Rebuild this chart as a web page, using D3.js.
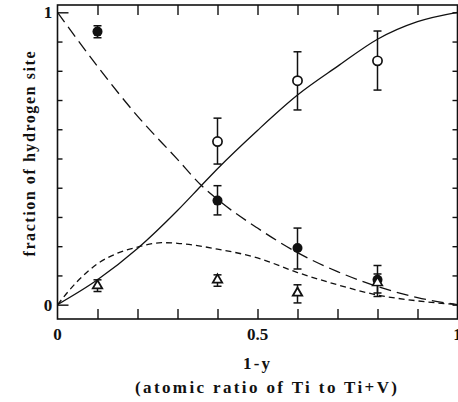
<!DOCTYPE html>
<html><head><meta charset="utf-8">
<script src="https://cdn.jsdelivr.net/npm/d3@7"></script>
<style>html,body{margin:0;padding:0;background:#fff;}svg{display:block;}</style>
</head><body>
<svg id="chart" width="458" height="402"></svg>
<script>
// ---- data ----
const xCats = [0.1, 0.4, 0.6, 0.8];
// filled circles
const filledY   = [0.934, 0.356, 0.194, 0.085];
const filledLo  = [0.913, 0.307, 0.122, 0.040];
const filledHi  = [0.954, 0.407, 0.262, 0.134];
// open circles
const openX     = [0.4, 0.6, 0.8];
const openY     = [0.558, 0.766, 0.834];
const openLo    = [0.481, 0.666, 0.734];
const openHi    = [0.638, 0.865, 0.936];
// open triangles
const triY      = [0.065, 0.085, 0.040, 0.075];
const triLo     = [0.045, 0.063, 0.006, 0.028];
const triHi     = [0.085, 0.102, 0.068, 0.105];
// curves
const solidX  = [0, 0.1, 0.2, 0.3, 0.358, 0.4, 0.5, 0.6, 0.7, 0.8, 0.9, 1];
const solidY  = [0, 0.085, 0.192, 0.322, 0.405, 0.465, 0.596, 0.717, 0.815, 0.908, 0.968, 1];
const longX   = [0, 0.1, 0.2, 0.3, 0.358, 0.4, 0.5, 0.6, 0.7, 0.8, 0.9, 1];
const longY   = [1, 0.815, 0.645, 0.497, 0.41, 0.36, 0.262, 0.178, 0.113, 0.062, 0.024, 0];
const shortX  = [0, 0.05, 0.1, 0.15, 0.2, 0.26, 0.3, 0.4, 0.5, 0.6, 0.7, 0.8, 0.9, 1];
const shortY  = [0, 0.08, 0.14, 0.176, 0.197, 0.212, 0.21, 0.19, 0.16, 0.11, 0.068, 0.033, 0.013, 0];
// ticks
const xMinorTicks = [0.1, 0.2, 0.3, 0.4, 0.5, 0.6, 0.7, 0.8, 0.9];
const xTickLabels = [0, 0.5, 1];
const yMinorTicks = [0.1, 0.2, 0.3, 0.4, 0.5, 0.6, 0.7, 0.8, 0.9];
const yTickLabels = [0, 1];
const xTitle1 = "1-y";
const xTitle2 = "(atomic ratio of Ti to Ti+V)";
const yTitle = "fraction of hydrogen site";

// ---- drawing ----
const svg = d3.select("#chart");
const x = d3.scaleLinear().domain([0, 1]).range([57.5, 457.5]);
const y = d3.scaleLinear().domain([-0.049, 1.025]).range([319, 5]);
const [x0, x1] = x.range();
const [yb, yt] = y.range();

const ink = "#111";
const titleFont = "'Liberation Serif', 'DejaVu Serif', serif";
const serifFont = "'Liberation Serif', 'DejaVu Serif', serif";

// frame
svg.append("rect").attr("x", x0).attr("y", yt).attr("width", x1 - x0).attr("height", yb - yt)
  .attr("fill", "none").attr("stroke", ink).attr("stroke-width", 1.6);

function ticks(axis, tx, ty) {
  svg.append("g").attr("transform", `translate(${tx},${ty})`)
    .call(axis)
    .call(g => g.select(".domain").remove())
    .call(g => g.selectAll("line").attr("stroke", ink).attr("stroke-width", 1.4));
}
ticks(d3.axisBottom(x).tickValues(xMinorTicks).tickSizeInner(-10).tickSizeOuter(0).tickFormat(""), 0, yb);
ticks(d3.axisTop(x).tickValues(xMinorTicks).tickSizeInner(-10).tickSizeOuter(0).tickFormat(""), 0, yt);
ticks(d3.axisLeft(y).tickValues(yMinorTicks).tickSizeInner(-5).tickSizeOuter(0).tickFormat(""), x0, 0);
ticks(d3.axisLeft(y).tickValues(yTickLabels).tickSizeInner(-11).tickSizeOuter(0).tickFormat(""), x0, 0);
ticks(d3.axisRight(y).tickValues(yMinorTicks.concat(yTickLabels)).tickSizeInner(-5).tickSizeOuter(0).tickFormat(""), x1, 0);

// tick labels
svg.append("g").selectAll("text").data(xTickLabels).join("text")
  .attr("x", d => x(d)).attr("y", 340)
  .attr("text-anchor", "middle")
  .attr("font-family", serifFont).attr("font-weight", "bold").attr("font-size", 17)
  .attr("fill", ink).text(d => d3.format("")(d));
svg.append("g").selectAll("text").data(yTickLabels).join("text")
  .attr("x", 48).attr("y", d => y(d) + 6)
  .attr("text-anchor", "middle")
  .attr("font-family", serifFont).attr("font-weight", "bold").attr("font-size", 17)
  .attr("fill", ink).text(d => d3.format("")(d));

// titles (serif, spaced out to the monospaced widths of the reference)
svg.append("text").attr("x", 243).attr("y", 369)
  .attr("font-family", titleFont).attr("font-weight", "bold").attr("font-size", 17)
  .attr("textLength", 27).attr("lengthAdjust", "spacing")
  .attr("fill", ink).text(xTitle1);
svg.append("text").attr("x", 135).attr("y", 393)
  .attr("font-family", titleFont).attr("font-weight", "bold").attr("font-size", 17)
  .attr("textLength", 262).attr("lengthAdjust", "spacing")
  .attr("fill", ink).text(xTitle2);
svg.append("text").attr("transform", "translate(35,256.5) rotate(-90)")
  .attr("font-family", titleFont).attr("font-weight", "bold").attr("font-size", 16)
  .attr("textLength", 205).attr("lengthAdjust", "spacing")
  .attr("fill", ink).text(yTitle);

// curves
const line = d3.line().x(d => x(d[0])).y(d => y(d[1])).curve(d3.curveMonotoneX);
svg.append("path").datum(d3.zip(solidX, solidY)).attr("d", line)
  .attr("fill", "none").attr("stroke", ink).attr("stroke-width", 1.3);
svg.append("path").datum(d3.zip(longX, longY)).attr("d", line)
  .attr("fill", "none").attr("stroke", ink).attr("stroke-width", 1.3).attr("stroke-dasharray", "12,6");
svg.append("path").datum(d3.zip(shortX, shortY)).attr("d", line)
  .attr("fill", "none").attr("stroke", ink).attr("stroke-width", 1.3).attr("stroke-dasharray", "6,4");

// error bars
function errBars(xs, lo, hi) {
  const g = svg.append("g").attr("stroke", ink).attr("stroke-width", 1.5);
  xs.forEach((xv, i) => {
    g.append("line").attr("x1", x(xv)).attr("x2", x(xv)).attr("y1", y(lo[i])).attr("y2", y(hi[i]));
    g.append("line").attr("x1", x(xv) - 4).attr("x2", x(xv) + 4).attr("y1", y(lo[i])).attr("y2", y(lo[i]));
    g.append("line").attr("x1", x(xv) - 4).attr("x2", x(xv) + 4).attr("y1", y(hi[i])).attr("y2", y(hi[i]));
  });
}
errBars(xCats, triLo, triHi);
errBars(xCats, filledLo, filledHi);
errBars(openX, openLo, openHi);

// markers
svg.append("g").selectAll("path").data(d3.zip(xCats, triY)).join("path")
  .attr("transform", d => `translate(${x(d[0])},${y(d[1])})`)
  .attr("d", d3.symbol(d3.symbolTriangle, 38))
  .attr("fill", "#fff").attr("stroke", ink).attr("stroke-width", 1.8);
svg.append("g").selectAll("circle").data(d3.zip(xCats, filledY)).join("circle")
  .attr("cx", d => x(d[0])).attr("cy", d => y(d[1])).attr("r", 5)
  .attr("fill", ink);
svg.append("g").selectAll("circle").data(d3.zip(openX, openY)).join("circle")
  .attr("cx", d => x(d[0])).attr("cy", d => y(d[1])).attr("r", 4.6)
  .attr("fill", "#fff").attr("stroke", ink).attr("stroke-width", 1.7);
// the triangle at 0.8 shows through the filled circle
svg.append("g").selectAll("path").data(d3.zip(xCats, triY).filter(d => d[0] === 0.8)).join("path")
  .attr("transform", d => `translate(${x(d[0])},${y(d[1])})`)
  .attr("d", d3.symbol(d3.symbolTriangle, 20))
  .attr("fill", "#fff").attr("stroke", "none");
</script>
</body></html>
